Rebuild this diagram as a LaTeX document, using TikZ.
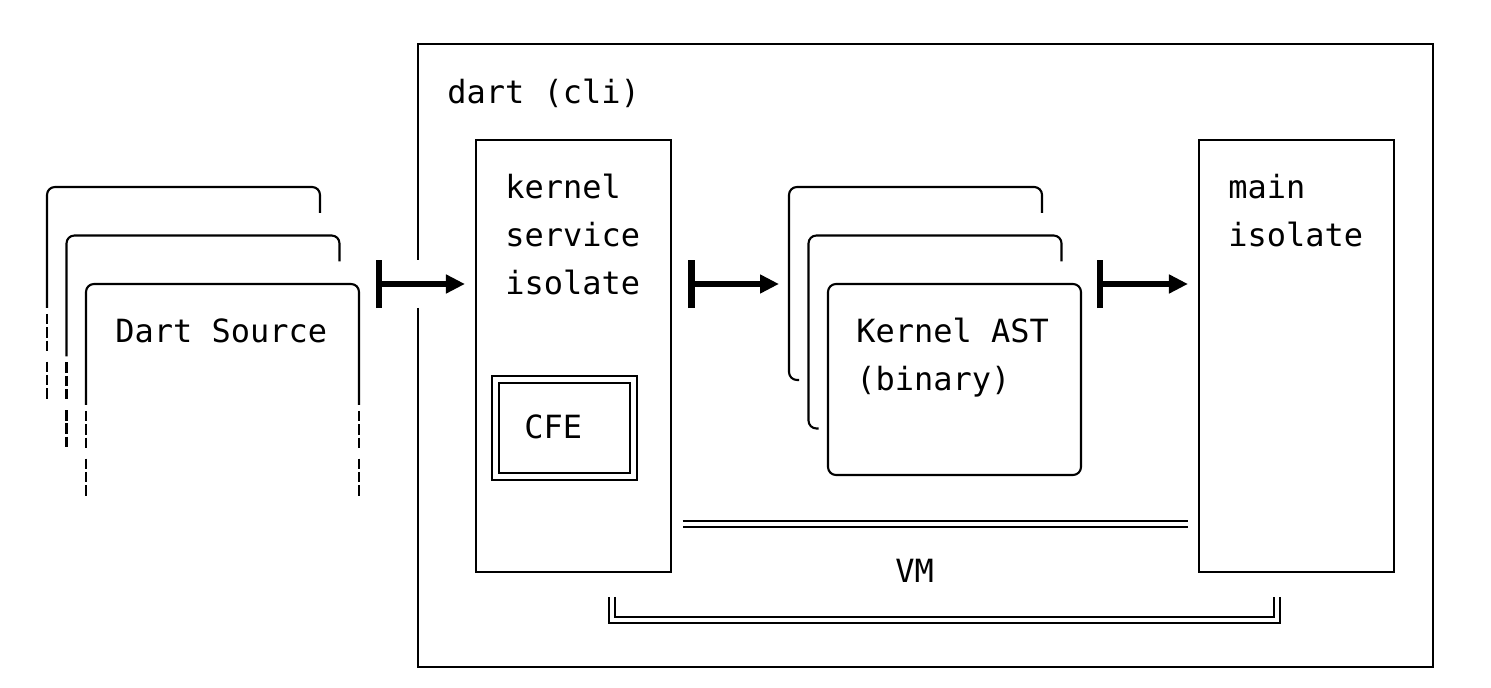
\documentclass[tikz,border=0pt]{standalone}
\usepackage{fontspec}
\setmonofont{DejaVu Sans Mono}
\usetikzlibrary{arrows.meta}
\begin{document}
\begin{tikzpicture}[x=0.02cm,y=-0.02cm]
		\tikzstyle{line}=[line width=1.2pt]
		\tikzstyle{box}=[draw,line width=1.2pt,inner sep=0pt]
		\tikzstyle{twin}=[line width=1.2pt,double,double distance=2.4pt]
		\tikzstyle{dots}=[line width=1.2pt,dash pattern=on 5.95pt off 1.6pt on 5.95pt off 1.6pt on 5.95pt off 6.1pt]
		\tikzstyle{word}=[anchor=base west,inner sep=0pt,font=\ttfamily\fontsize{18.2}{27}\selectfont]
		\tikzstyle{flow}=[line width=3pt,{Bar[width=27.4pt,line width=3.8pt]}-{Triangle[length=10.8pt,width=10.2pt]},shorten >=5.7pt]
	\useasboundingbox (0,0) rectangle (1491,688);
	\newcommand*{\srcsheet}{
		\draw[line,rounded corners=4.5pt] (0,121) -- (0,0) -- (273,0) -- (273,26);
		\draw[dots] (0,127) -- (0,212);
}
	\newcommand*{\astsheet}{
		\draw[line,rounded corners=4.5pt] (10,193) -- (0,193) -- (0,0) -- (253,0) -- (253,26);
}
	% outer box, open on the left for the input
	\draw[line] (418,308) -- (418,667) -- (1433,667) -- (1433,44) -- (418,44) -- (418,260);
	\node[word] (cli) at (447,104) {dart (cli)};
	% dart sources
	\foreach \i in {0,1}{
		\begin{scope}[shift={(47+19.5*\i,187+48.5*\i)}]
			\srcsheet
		\end{scope}
	}
	\begin{scope}[shift={(86,284)}]
		\draw[line,rounded corners=4.5pt] (0,121) -- (0,0) -- (273,0) -- (273,121);
		\draw[dots] (0,127) -- (0,212) (273,127) -- (273,212);
	\end{scope}
	\node[word] (src) at (115,343) {Dart Source};
	% isolates
	\node[box,minimum width=3.9cm,minimum height=8.64cm] (ksi) at (573.5,356) {};
	\node[box,minimum width=3.9cm,minimum height=8.64cm] (main) at (1296.5,356) {};
	\foreach \w [count=\i] in {kernel,service,isolate}
		\node[word] (ksi_\i) at (505,151+48*\i) {\w};
	\foreach \w [count=\i] in {main,isolate}
		\node[word] (main_\i) at (1228,151+48*\i) {\w};
	\node[box,twin,minimum width=2.76cm,minimum height=1.94cm] (cfe) at (564.5,428) {};
	\node[word] (cfe_t) at (524,439) {CFE};
	% kernel binaries
	\foreach \i in {0,1}{
		\begin{scope}[shift={(789+19.5*\i,187+48.5*\i)}]
			\astsheet
			\coordinate (ast_\i) at (0,97);
		\end{scope}
	}
	\node[box,rounded corners=4.5pt,minimum width=5.06cm,minimum height=3.82cm] (ast) at (954.5,379.5) {};
	\node[word] (ast_a) at (856,343) {Kernel AST};
	\node[word] (ast_b) at (856,391) {(binary)};
	% arrows
	\coordinate (in_1) at (375.7,284);
	\coordinate (in_2) at (688,284);
	\coordinate (in_3) at (1096.7,284);
	\draw[flow] (in_1) -- (in_1 -| ksi.west);
	\draw[flow] (in_2) -- (in_2 -| ast_0);
	\draw[flow] (in_3) -- (in_3 -| main.west);
	% vm
	\coordinate (vm) at (916,524);
	\draw[twin,shorten <=6pt,shorten >=5.7pt] (ksi.east |- vm) -- (main.west |- vm);
	\coordinate (vm_l) at (612,597);
	\coordinate (vm_r) at (1277,597);
	\draw[twin] (vm_l) -- ++(0,23) -| (vm_r);
	\node[word] (vm_t) at (895,583) {VM};
\end{tikzpicture}
\end{document}
